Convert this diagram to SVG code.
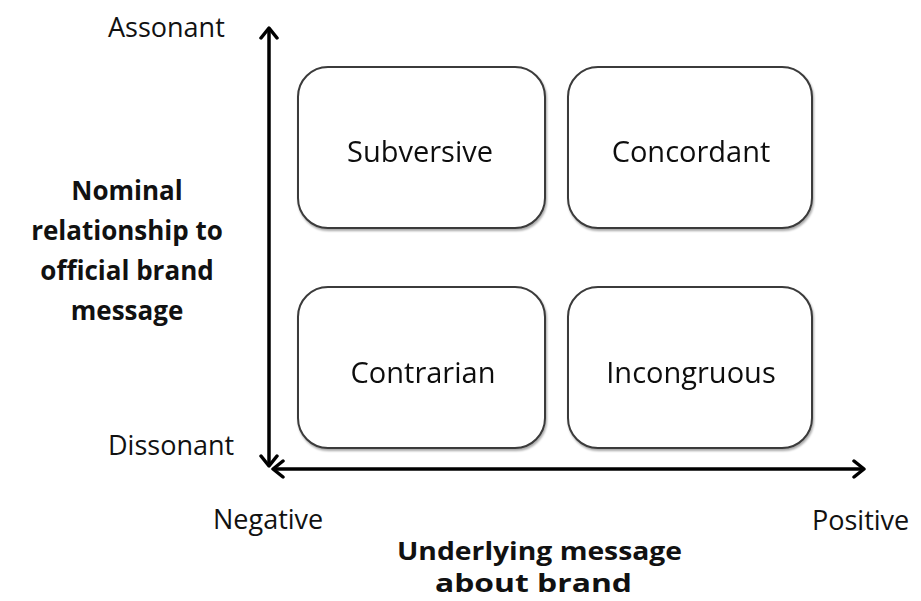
<svg xmlns="http://www.w3.org/2000/svg" width="921" height="601" viewBox="0 0 921 601">
  <defs>
    <marker id="chev" viewBox="0 0 20 20" refX="16" refY="10" markerWidth="20" markerHeight="20" markerUnits="userSpaceOnUse" orient="auto-start-reverse">
      <path d="M6,2 L16,10 L6,18" fill="none" stroke="#000" stroke-width="3.5" stroke-linecap="round" stroke-linejoin="round"/>
    </marker>
    <filter id="sh" x="-10%" y="-10%" width="120%" height="120%">
      <feGaussianBlur in="SourceAlpha" stdDeviation="1.2"/>
      <feOffset dx="1" dy="1.5" result="b"/>
      <feComponentTransfer><feFuncA type="linear" slope="0.35"/></feComponentTransfer>
      <feMerge><feMergeNode/><feMergeNode in="SourceGraphic"/></feMerge>
    </filter>
  </defs>
  <style>
    .box { fill: #fff; stroke: #3a3a3a; stroke-width: 2; }
    .lbl { font-family: "Open Sans", "Liberation Sans", sans-serif; font-size: 29px; fill: #111; text-anchor: middle; }
    .ax { font-family: "Open Sans", "Liberation Sans", sans-serif; font-size: 27px; fill: #111; }
    .bold { font-family: "Open Sans", "Liberation Sans", sans-serif; font-size: 26px; font-weight: bold; fill: #111; text-anchor: middle; }
    .bold2 { font-family: "Open Sans", "Liberation Sans", sans-serif; font-size: 25px; font-weight: bold; fill: #111; }
    .axis { stroke: #000; stroke-width: 3.5; fill: none; }
  </style>
  <rect width="921" height="601" fill="#fff"/>

  <g id="connectors">
    <line class="axis" x1="269" y1="466" x2="269" y2="28" marker-start="url(#chev)" marker-end="url(#chev)"/>
    <line class="axis" x1="273" y1="469" x2="864" y2="469" marker-start="url(#chev)" marker-end="url(#chev)"/>
  </g>

  <g id="subversive" filter="url(#sh)">
    <rect class="box" x="298" y="67" width="247" height="161" rx="30"/>
    <text class="lbl" x="420" y="162">Subversive</text>
  </g>
  <g id="concordant" filter="url(#sh)">
    <rect class="box" x="568" y="67" width="244" height="161" rx="30"/>
    <text class="lbl" x="691" y="162">Concordant</text>
  </g>
  <g id="contrarian" filter="url(#sh)">
    <rect class="box" x="298" y="287" width="247" height="161" rx="30"/>
    <text class="lbl" x="423" y="383">Contrarian</text>
  </g>
  <g id="incongruous" filter="url(#sh)">
    <rect class="box" x="568" y="287" width="244" height="161" rx="30"/>
    <text class="lbl" x="691" y="383">Incongruous</text>
  </g>

  <g id="y-axis-labels">
    <text class="ax" x="108" y="37">Assonant</text>
    <text class="ax" x="108" y="455">Dissonant</text>
    <text class="bold" x="127" y="200">Nominal</text>
    <text class="bold" x="127" y="240">relationship to</text>
    <text class="bold" x="127" y="280">official brand</text>
    <text class="bold" x="127" y="320">message</text>
  </g>
  <g id="x-axis-labels">
    <text class="bold2" x="397" y="560" textLength="285" lengthAdjust="spacingAndGlyphs">Underlying message</text>
    <text class="bold2" x="435" y="592" textLength="197" lengthAdjust="spacingAndGlyphs">about brand</text>
    <text class="ax" x="213" y="529">Negative</text>
    <text class="ax" x="812" y="530">Positive</text>
  </g>
</svg>
